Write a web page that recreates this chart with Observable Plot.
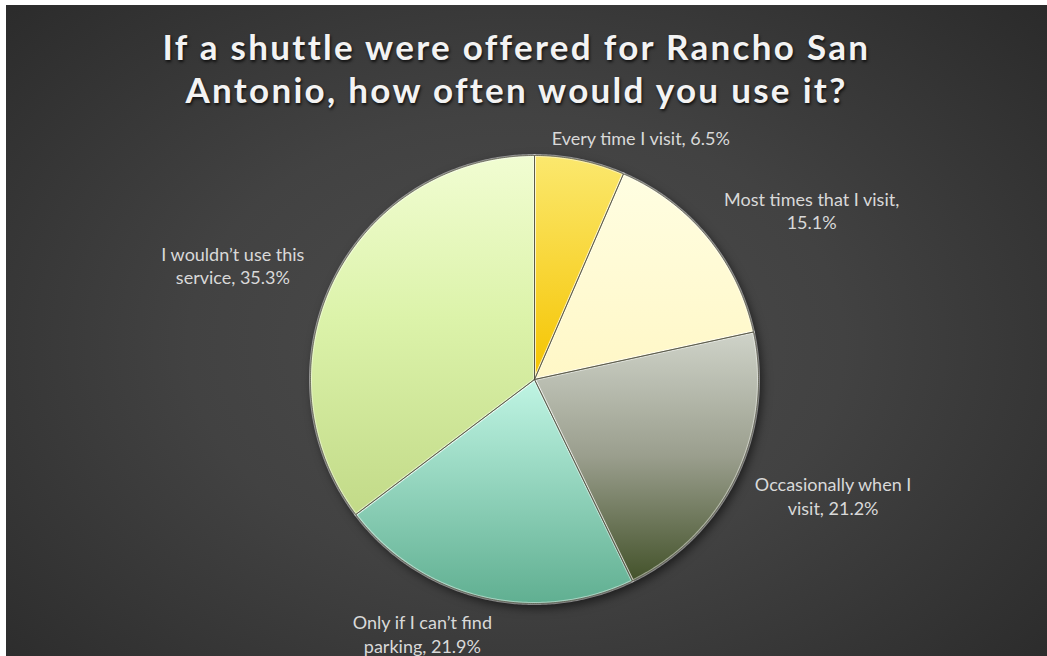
<!DOCTYPE html>
<html>
<head>
<meta charset="utf-8">
<script src="https://cdn.jsdelivr.net/npm/d3@7"></script>
<script src="https://cdn.jsdelivr.net/npm/@observablehq/plot@0.6"></script>
<style>
  html, body { margin: 0; padding: 0; background: #ffffff; }
  #frame {
    position: absolute; left: 6px; top: 5px; width: 1041px; height: 651px; overflow: hidden;
    background: radial-gradient(ellipse 70% 78% at 49% 52%, #4c4c4c 0%, #424242 45%, #2a2a2a 100%);
  }
  #title {
    position: absolute; left: 0; top: 0; width: 1041px; height: 115px; box-sizing: border-box;
    padding-top: 20px; padding-right: 20px; text-align: center; font-family: Lato, "Open Sans", sans-serif; font-weight: 700;
    font-size: 35px; line-height: 43px; letter-spacing: 2.3px; color: #f3f3f3;
    text-shadow: 1px 2px 3px rgba(0,0,0,0.75);
  }
  #chart { position: absolute; left: 0; top: 115px; }
</style>
</head>
<body>
<div id="frame">
  <div id="title">If a shuttle were offered for Rancho San<br>Antonio, how often would you use it?</div>
  <div id="chart"></div>
</div>
<script>
// ---- data ----
const categories = [
  "Every time I visit",
  "Most times that I visit",
  "Occasionally when I visit",
  "Only if I can’t find parking",
  "I wouldn’t use this service"
];
const shares = [6.5, 15.1, 21.2, 21.9, 35.3];
const labels = [
  "Every time I visit, 6.5%",
  "Most times that I visit,\n15.1%",
  "Occasionally when I\nvisit, 21.2%",
  "Only if I can’t find\nparking, 21.9%",
  "I wouldn’t use this\nservice, 35.3%"
];

// ---- styling (slice gradients, top -> bottom) ----
const gradients = [
  [[0, "#fbe86e"], [1, "#f5c400"]],
  [[0, "#fffee2"], [1, "#fff7c6"]],
  [[0, "#cfd3c9"], [0.5, "#9a9e8d"], [1, "#43522a"]],
  [[0, "#c0f5e4"], [1, "#60af91"]],
  [[0, "#f1fdd2"], [0.45, "#dcf3aa"], [1, "#c2da88"]]
];
// label placement: radial factor and angular nudge (degrees) from slice mid-angle
const labelRadius = [1.18, 1.45, 1.43, 1.24, 1.44];
const labelNudge = [12, 8, -4.7, 10.3, -5.7];

// ---- geometry from data ----
const arcs = d3.pie().sort(null).value(d => d)(shares);
const pts = [];
arcs.forEach((p, i) => {
  const n = Math.max(4, Math.ceil((p.endAngle - p.startAngle) / (Math.PI / 360)));
  const fill = `url(#slice${i})`;
  pts.push({k: categories[i], x: 0, y: 0, fill});
  for (let j = 0; j <= n; j++) {
    const a = p.startAngle + (p.endAngle - p.startAngle) * j / n;
    pts.push({k: categories[i], x: Math.sin(a), y: Math.cos(a), fill});
  }
  pts.push({k: categories[i], x: 0, y: 0, fill});
});
const labelData = arcs.map((p, i) => {
  const a = (p.startAngle + p.endAngle) / 2 + labelNudge[i] * Math.PI / 180;
  return {x: labelRadius[i] * Math.sin(a), y: labelRadius[i] * Math.cos(a), text: labels[i]};
});

const cx = 528, cy = 259, R = 224;
const svg = Plot.plot({
  width: 1041,
  height: 536,
  style: {background: "none", overflow: "visible"},
  x: {domain: [-1, 1], range: [cx - R, cx + R], axis: null},
  y: {domain: [-1, 1], range: [cy + R, cy - R], axis: null},
  color: {type: "identity"},
  marks: [
    Plot.line(pts, {x: "x", y: "y", z: "k", fill: "fill", stroke: "#ffffff", strokeOpacity: 0.45, strokeWidth: 3, curve: "linear-closed"}),
    Plot.line(pts, {x: "x", y: "y", z: "k", stroke: "#4a4a38", strokeOpacity: 0.75, strokeWidth: 0.9, curve: "linear-closed"}),
    Plot.text(labelData, {x: "x", y: "y", text: "text", fill: "#d9d9d9", fontSize: 18, fontFamily: "Lato, sans-serif", lineHeight: 1.3})
  ]
});

const defs = d3.select(svg).insert("defs", ":first-child");
gradients.forEach((stops, i) => {
  const g = defs.append("linearGradient").attr("id", "slice" + i)
    .attr("x1", 0).attr("y1", 0).attr("x2", 0).attr("y2", 1);
  stops.forEach(([o, c]) => g.append("stop").attr("offset", o).attr("stop-color", c));
});
const lineGroups = svg.querySelectorAll('g[aria-label="line"]');
if (lineGroups[0]) lineGroups[0].style.filter = "drop-shadow(3px 4px 5px rgba(0,0,0,0.55))";

document.getElementById("chart").appendChild(svg);
</script>
</body>
</html>
